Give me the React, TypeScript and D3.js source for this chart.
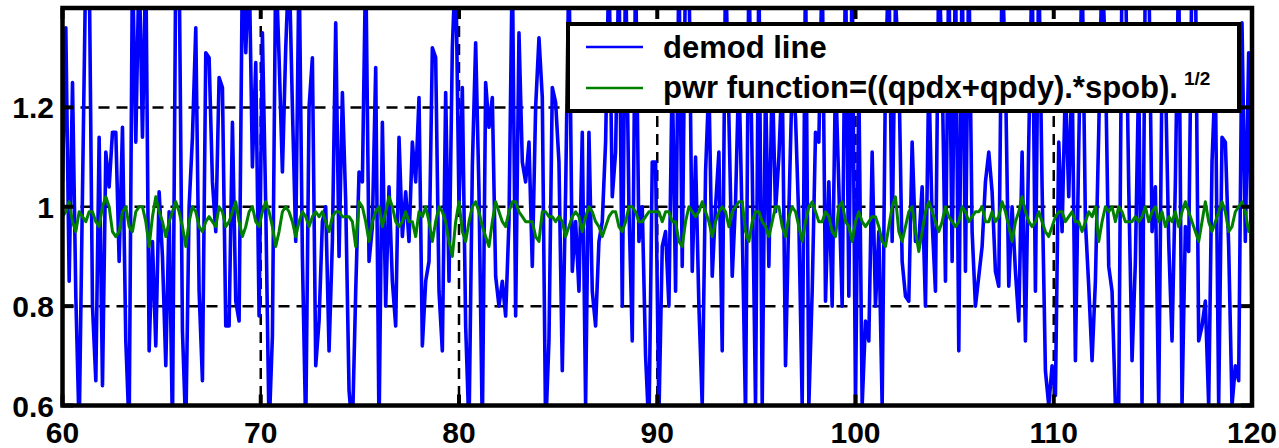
import React from "react";
import * as d3 from "d3";

// ---- data ----
const xTicks = [60, 70, 80, 90, 100, 110, 120];
const yTicks = [0.6, 0.8, 1, 1.2];
const yTickLabels = ["0.6", "0.8", "1", "1.2"];
const xGrid = [70, 80, 90, 100, 110];
const yGrid = [0.8, 1, 1.2];
const legendLabels = ["demod line", "pwr function=((qpdx+qpdy).*spob)."];
const legendSup = "1/2";

const blue60 = [1.05,1.36,0.85,1.25,0.82,0.55,1.03,1.5,1.5,0.8,0.65,1.14,0.64,1.11,1.04,1.15,1.15,0.89,1.16,0.73,0.55,1.5,1.13,1.5,1.14,1.5,0.71,0.93,0.72,1.03,0.9,0.68,0.99,0.55,1.5,1.5,0.75,0.55,1.0,1.14,1.36,0.83,0.65,1.31,1.3,1.05,0.95,1.26,1.24,0.76,0.76,1.17,0.81,0.77,1.5,1.31,1.5,1.08,1.29,0.78];
const blue70 = [1.35,1.0,0.55,0.74,1.5,1.3,1.07,1.32,1.5,1.2,0.93,1.5,0.9,0.55,1.2,1.3,0.68,0.77,0.97,1.0,0.71,0.93,1.37,0.9,1.23,1.01,0.63,0.55,0.83,1.07,1.05,1.5,0.89,0.96,1.28,0.55,1.17,0.8,1.04,0.85,0.76,1.14,0.94,1.03,0.93,1.13,1.05,1.22,0.72,0.85,0.89,1.32,1.3,0.83,0.71,1.23,0.85,1.32,1.5,1.0];
const blue80 = [1.24,0.76,0.55,1.08,1.33,1.03,0.55,1.25,1.16,1.22,0.86,0.8,0.85,0.78,0.97,1.5,0.78,1.35,1.09,1.05,1.13,0.88,1.2,1.34,1.22,0.55,0.73,1.24,1.21,1.09,0.67,1.03,1.5,0.87,0.97,0.83,1.15,0.6,1.15,0.83,0.76,0.93,0.97,1.13,1.5,1.02,1.11,1.5,0.8,1.5,1.0,0.73,1.5,0.93,1.0,0.7,0.55,1.09,1.09,0.58];
const blue90 = [0.92,0.95,0.8,1.28,0.83,1.5,0.88,1.5,1.5,0.87,1.1,0.8,0.6,1.07,1.25,0.86,1.0,1.11,0.71,1.5,1.18,0.86,1.01,1.28,0.96,0.58,1.5,1.08,0.6,1.5,0.6,1.25,0.88,1.28,0.99,1.1,1.27,0.68,0.99,1.26,1.18,0.97,0.6,1.5,0.6,0.83,1.15,1.13,1.5,0.81,1.05,0.8,1.27,1.04,0.8,1.5,0.82,1.5,0.6,1.25];
const blue100 = [0.6,0.77,0.73,1.11,0.8,0.95,0.6,1.27,1.5,0.93,1.42,1.28,0.89,0.82,0.81,1.13,0.93,0.93,1.04,0.8,1.27,0.97,0.83,1.5,1.28,0.85,1.5,0.89,1.5,0.71,1.5,0.87,1.5,0.95,0.8,0.86,0.92,1.05,1.11,1.03,0.87,0.84,1.5,1.27,0.84,1.0,0.87,0.77,1.11,0.73,1.13,1.5,0.83,1.5,1.04,0.67,0.6,0.68,0.62,1.13];
const blue110 = [0.95,1.25,1.02,1.28,0.69,1.12,1.5,0.97,0.84,0.69,0.85,1.15,1.5,1.3,0.88,0.83,0.6,0.6,1.5,1.5,1.04,0.69,0.89,1.27,0.6,1.5,1.5,0.95,1.04,0.6,1.28,1.27,0.93,0.73,1.05,1.5,0.6,0.96,0.91,1.5,1.5,0.73,0.76,0.81,0.6,1.09,1.27,0.6,1.14,1.13,0.92,0.6,0.68,0.65,1.37,0.93,1.31,0.78];

const green60 = [0.98,0.99,1.01,0.97,0.95,0.99,0.98,0.97,0.99,0.99,0.97,0.96,1.0,1.02,1.0,0.95,0.94,0.95,0.99,1.0,0.96,0.95,0.99,1.0,1.0,0.97,0.92,0.98,1.02,0.99,0.97,0.94,0.97,0.99,1.01,0.99,0.96,0.92,0.97,1.0,0.99,0.96,0.95,0.97,0.98,0.97,0.96,1.0,0.99,0.96,0.97,0.99,1.01,0.97,0.94,0.96,0.99,1.0,0.97,0.96];
const green70 = [0.99,1.01,0.99,0.96,0.92,0.95,0.99,1.0,0.99,0.97,0.94,0.97,0.99,0.98,0.96,0.98,0.99,0.98,0.99,0.97,0.95,0.98,0.99,0.99,0.98,0.98,0.98,0.97,0.92,1.01,1.0,0.97,0.93,0.97,0.99,1.0,0.96,0.99,1.02,1.0,0.97,0.96,0.97,0.99,0.97,0.97,0.94,0.99,0.98,1.0,0.97,0.93,0.97,1.0,0.99,0.97,0.93,0.9,0.97,1.01];
const green80 = [0.95,0.93,0.97,1.0,1.01,0.99,0.96,0.94,0.92,0.97,1.01,0.99,0.97,0.96,0.99,1.01,1.01,0.99,0.98,0.97,0.97,0.97,0.94,0.93,0.99,0.99,0.98,0.98,0.97,0.98,0.97,0.94,0.96,0.98,0.99,0.98,0.95,0.98,1.0,0.99,0.97,0.96,0.94,0.96,0.98,0.99,0.99,0.96,0.95,0.97,1.0,1.0,0.99,0.97,0.97,0.98,0.99,0.99,0.99,0.99];
const green90 = [0.97,0.99,0.99,0.97,0.97,0.93,0.92,0.97,1.0,0.99,0.98,0.99,1.01,0.99,0.97,0.94,0.97,0.99,1.0,0.99,0.96,0.99,1.0,1.01,1.01,0.95,0.93,0.97,0.99,0.99,0.97,0.96,0.94,0.97,1.0,1.0,0.96,0.94,0.98,1.0,0.99,0.96,0.93,0.97,1.0,1.01,0.99,0.97,0.97,0.99,0.98,0.95,0.94,1.0,1.01,0.97,0.96,0.93,0.97,0.99];
const green100 = [0.97,0.96,0.97,0.98,0.98,0.96,0.93,0.92,0.96,1.0,1.02,0.95,0.93,0.96,0.99,1.0,0.95,0.91,0.95,0.99,1.01,0.99,0.97,0.95,0.97,1.0,0.98,0.97,0.96,0.97,1.0,0.99,0.97,0.98,0.99,0.99,1.0,0.97,0.97,0.99,0.97,0.98,1.01,0.99,0.96,0.93,0.97,0.99,1.02,0.99,0.97,0.96,0.97,0.99,0.97,0.95,0.94,0.96,0.98,0.99];
const green110 = [0.99,0.97,0.98,0.99,0.97,0.97,0.95,0.97,0.99,0.98,1.0,0.93,0.97,1.0,0.99,1.0,0.97,1.0,0.99,0.97,0.97,0.97,0.98,0.97,0.98,1.0,0.97,0.99,1.0,0.97,0.99,0.96,0.98,0.97,0.99,0.96,0.99,1.01,0.99,0.97,0.95,0.93,0.97,1.01,0.97,0.95,0.97,0.99,1.01,0.99,0.95,0.96,0.99,1.0,1.01,0.99,0.95,0.97];

const blueSeries = [...blue60, ...blue70, ...blue80, ...blue90, ...blue100, ...blue110];
const greenSeries = [...green60, ...green70, ...green80, ...green90, ...green100, ...green110];

const W = 1279;
const H = 448;
const L = 62.5, R = 1252, T = 8, B = 405.5;
const FONT = "'Liberation Sans', Arial, Helvetica, sans-serif";

export default function App() {
  const x = d3.scaleLinear().domain([60, 120]).range([L, R]);
  const y = d3.scaleLinear().domain([0.6, 1.4]).range([B, T]);

  const mk = (vals: number[]) => {
    const idx = d3.scaleLinear().domain([0, vals.length - 1]).range([60, 120]);
    return d3
      .line<number>()
      .x((_, i) => x(idx(i)))
      .y((v) => y(v))(vals) as string;
  };

  const tickLen = 11;

  return (
    <svg
      width={W}
      height={H}
      style={{ position: "absolute", left: 0, top: 0, background: "#fff" }}
      fontFamily={FONT}
    >
      <defs>
        <clipPath id="plotClip">
          <rect x={L} y={T} width={R - L} height={B - T} />
        </clipPath>
      </defs>
      <rect x={0} y={0} width={W} height={H} fill="#fff" />

      {/* grid */}
      <g stroke="#000" strokeWidth={2.5} strokeDasharray="11 7">
        {yGrid.map((v) => (
          <line key={"gy" + v} x1={L} x2={R} y1={y(v)} y2={y(v)} />
        ))}
        {xGrid.map((v) => (
          <line key={"gx" + v} x1={x(v)} x2={x(v)} y1={T} y2={B} />
        ))}
      </g>

      {/* data */}
      <g clipPath="url(#plotClip)" fill="none" strokeLinejoin="round">
        <path d={mk(blueSeries)} stroke="#0000ff" strokeWidth={3.6} />
        <path d={mk(greenSeries)} stroke="#008000" strokeWidth={3} />
      </g>

      {/* ticks */}
      <g stroke="#000" strokeWidth={4}>
        {xTicks.map((v) => (
          <g key={"xt" + v}>
            <line x1={x(v)} x2={x(v)} y1={B} y2={B - tickLen} />
            <line x1={x(v)} x2={x(v)} y1={T} y2={T + tickLen} />
          </g>
        ))}
        {yTicks.map((v) => (
          <g key={"yt" + v}>
            <line x1={L} x2={L + tickLen} y1={y(v)} y2={y(v)} />
            <line x1={R} x2={R - tickLen} y1={y(v)} y2={y(v)} />
          </g>
        ))}
      </g>

      {/* frame */}
      <rect x={L} y={T} width={R - L} height={B - T} fill="none" stroke="#000" strokeWidth={4.5} />

      {/* tick labels */}
      <g fontSize={30} fontWeight="bold" fill="#000">
        {xTicks.map((v) => (
          <text key={"xl" + v} x={x(v)} y={443} textAnchor="middle">
            {String(v)}
          </text>
        ))}
        {yTicks.map((v, i) => (
          <text key={"yl" + v} x={54} y={y(v) + 11} textAnchor="end">
            {yTickLabels[i]}
          </text>
        ))}
      </g>

      {/* legend */}
      <g>
        <rect x={568} y={24} width={671} height={87} fill="#fff" stroke="#000" strokeWidth={4} />
        <line x1={586} x2={643} y1={47} y2={47} stroke="#0000ff" strokeWidth={2.5} />
        <line x1={586} x2={643} y1={88} y2={88} stroke="#008000" strokeWidth={2.5} />
        <text x={663} y={58} fontSize={31} fontWeight="bold" fill="#000">
          {legendLabels[0]}
        </text>
        <text x={663} y={98} fontSize={31} fontWeight="bold" fill="#000">
          {legendLabels[1]}
          <tspan dx={6} dy={-13} fontSize={19}>
            {legendSup}
          </tspan>
        </text>
      </g>
    </svg>
  );
}
